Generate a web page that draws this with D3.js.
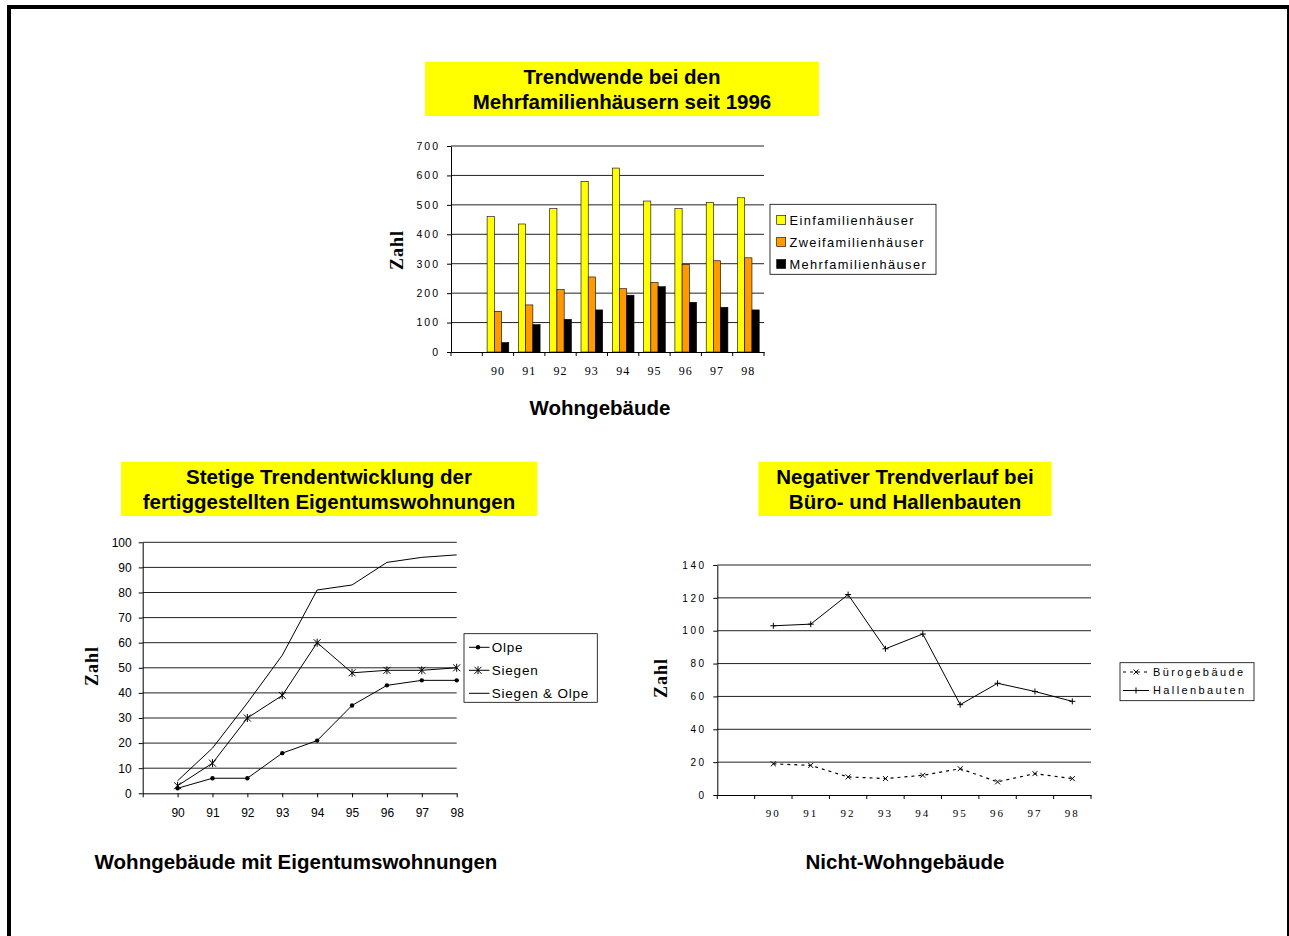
<!DOCTYPE html>
<html><head><meta charset="utf-8">
<script src="https://cdn.jsdelivr.net/npm/d3@7"></script>
<style>body{margin:0;background:#fff}svg{display:block}</style>
</head><body>
<svg id="c" width="1289" height="936"></svg>
<script>
// ---------- DATA ----------
const years = ["90","91","92","93","94","95","96","97","98"];

// Top: Wohngebäude
const barSeries = ["Einfamilienhäuser","Zweifamilienhäuser","Mehrfamilienhäuser"];
const einfamilien = [460, 435, 487, 580, 625, 513, 487, 508, 524];
const zweifamilien = [138, 160, 212, 255, 215, 236, 298, 310, 320];
const mehrfamilien = [32, 93, 111, 143, 193, 222, 169, 152, 143];
const barTicks = [0,100,200,300,400,500,600,700];
const barColors = ["#FFFF00","#FF9900","#000000"];

// Bottom left: Eigentumswohnungen
const olpe = [2, 6, 6, 16, 21, 35, 43, 45, 45];
const siegen = [3, 12, 30, 39, 60, 48, 49, 49, 50];
const siegenOlpe = [5, 18, 36, 55, 81, 83, 92, 94, 95];
const ewTicks = [0,10,20,30,40,50,60,70,80,90,100];

// Bottom right: Nicht-Wohngebäude
const buero = [19, 18, 11, 10, 12, 16, 8, 13, 10];
const hallen = [103, 104, 122, 89, 98, 55, 68, 63, 57];
const nwTicks = [0,20,40,60,80,100,120,140];

// ---------- STYLE ----------
const SANS = "'Liberation Sans', Arial, Helvetica, sans-serif";
const SERIF = "'Liberation Serif', 'Times New Roman', serif";
const svg = d3.select("#c");
const domainX = [""].concat(years);

// frame
svg.append("rect").attr("x",9).attr("y",7).attr("width",1280).attr("height",1000)
  .attr("fill","none").attr("stroke","#000").attr("stroke-width",4);

function titleBox(x, y, w, h, lines, cx) {
  svg.append("rect").attr("x",x).attr("y",y).attr("width",w).attr("height",h).attr("fill","#FFFF00");
  lines.forEach((t,i) => {
    svg.append("text").attr("x",cx).attr("y",y+22.6+25*i).attr("text-anchor","middle")
      .style("font-family",SANS).style("font-weight","bold").style("font-size","20.5px").text(t);
  });
}
function footer(x, y, t) {
  svg.append("text").attr("x",x).attr("y",y).attr("text-anchor","middle")
    .style("font-family",SANS).style("font-weight","bold").style("font-size","20.5px").text(t);
}
function zahl(x, y) {
  svg.append("text").attr("transform",`translate(${x},${y}) rotate(-90)`)
    .attr("text-anchor","middle").attr("dy","0.35em")
    .style("font-family",SERIF).style("font-weight","bold").style("font-size","18px")
    .style("letter-spacing","1px").text("Zahl");
}
function grid(g, ticks, y, x0, x1) {
  g.selectAll(null).data(ticks.filter(d=>d>0)).enter().append("line")
    .attr("x1",x0).attr("x2",x1).attr("y1",d=>y(d)).attr("y2",d=>y(d))
    .attr("stroke","#222").attr("stroke-width",1);
}
function styleAxis(g, font, size, ls) {
  g.select(".domain").attr("stroke","#000").attr("stroke-width",1);
  g.selectAll(".tick line").attr("stroke","#000");
  g.selectAll("text").attr("fill","#000").style("font-family",font).style("font-size",size+"px")
    .style("letter-spacing",ls+"px");
}

// ================= TOP CHART =================
titleBox(425, 61.7, 394, 54.3, ["Trendwende bei den","Mehrfamilienhäusern seit 1996"], 622);
const gT = svg.append("g");
const xT = d3.scaleBand().domain(domainX).range([451, 764]).padding(0);
const yT = d3.scaleLinear().domain([0,700]).range([352, 146]);
grid(gT, barTicks, yT, 451, 764);
const x1 = d3.scaleBand().domain(barSeries).range([0, 21.7]);
const barData = [einfamilien, zweifamilien, mehrfamilien];
years.forEach((yr, i) => {
  barSeries.forEach((s, k) => {
    const v = barData[k][i];
    gT.append("rect")
      .attr("x", xT(yr) + (xT.bandwidth()-21.7)/2 + x1(s))
      .attr("y", yT(v)).attr("width", x1.bandwidth()).attr("height", yT(0)-yT(v))
      .attr("fill", barColors[k]).attr("stroke","#000").attr("stroke-width",0.6);
  });
});
const ayT = gT.append("g").attr("transform","translate(451,0)")
  .call(d3.axisLeft(yT).tickValues(barTicks).tickSize(4).tickSizeOuter(0).tickPadding(7));
styleAxis(ayT, SANS, 10.5, 2);
const axT = gT.append("g").attr("transform","translate(0,352)")
  .call(d3.axisBottom(xT).tickSize(0).tickSizeOuter(0));
styleAxis(axT, SERIF, 12, 1);
axT.selectAll("text").attr("y",23).attr("dy",0);
gT.selectAll(null).data(domainX.map(d=>xT(d)).concat([xT.range()[1]])).enter().append("line")
  .attr("x1",d=>d).attr("x2",d=>d).attr("y1",352).attr("y2",356).attr("stroke","#000");
zahl(397, 250);
// legend
svg.append("rect").attr("x",770).attr("y",204.3).attr("width",166).attr("height",70)
  .attr("fill","#fff").attr("stroke","#000").attr("stroke-width",0.8);
barSeries.forEach((s,k) => {
  svg.append("rect").attr("x",776.7).attr("y",215.5+22*k).attr("width",9).attr("height",9)
    .attr("fill",barColors[k]).attr("stroke","#000").attr("stroke-width",0.6);
  svg.append("text").attr("x",789.5).attr("y",224.5+22*k)
    .style("font-family",SANS).style("font-size","12.8px").style("letter-spacing","1.4px").text(s);
});
footer(600, 415, "Wohngebäude");

// ================= BOTTOM LEFT =================
titleBox(121, 461.7, 416.3, 54.3, ["Stetige Trendentwicklung der","fertiggestellten Eigentumswohnungen"], 329);
const gL = svg.append("g");
const xL = d3.scalePoint().domain(domainX).range([142.7, 456.7]);
const yL = d3.scaleLinear().domain([0,100]).range([793.3, 542.3]);
grid(gL, ewTicks, yL, 142.7, 456.7);
const ayL = gL.append("g").attr("transform","translate(142.7,0)")
  .call(d3.axisLeft(yL).tickValues(ewTicks).tickSize(4).tickSizeOuter(0).tickPadding(7));
styleAxis(ayL, SANS, 12, 0);
const axL = gL.append("g").attr("transform","translate(0,793.3)")
  .call(d3.axisBottom(xL).tickSize(4).tickSizeOuter(0));
styleAxis(axL, SANS, 12, 0);
axL.selectAll("text").attr("y",23.5).attr("dy",0);
const lineL = d3.line().x((d,i)=>xL(years[i])).y(d=>yL(d));
const asterisk = "M-3.5,-3.5L3.5,3.5M-3.5,3.5L3.5,-3.5M0,-4L0,4";
gL.append("path").attr("d",lineL(siegenOlpe)).attr("fill","none").attr("stroke","#000").attr("stroke-width",1);
gL.append("path").attr("d",lineL(siegen)).attr("fill","none").attr("stroke","#000").attr("stroke-width",1);
gL.append("path").attr("d",lineL(olpe)).attr("fill","none").attr("stroke","#000").attr("stroke-width",1);
gL.selectAll(null).data(olpe).enter().append("circle")
  .attr("cx",(d,i)=>xL(years[i])).attr("cy",d=>yL(d)).attr("r",2.2).attr("fill","#000");
gL.selectAll(null).data(siegen).enter().append("path")
  .attr("transform",(d,i)=>`translate(${xL(years[i])},${yL(d)})`).attr("d",asterisk)
  .attr("stroke","#000").attr("stroke-width",1).attr("fill","none");
zahl(92, 666);
svg.append("rect").attr("x",464).attr("y",633.7).attr("width",133.3).attr("height",68.6)
  .attr("fill","#fff").attr("stroke","#000").attr("stroke-width",0.8);
const legL = ["Olpe","Siegen","Siegen & Olpe"];
legL.forEach((s,k) => {
  const cy = 647.3 + 23*k;
  svg.append("line").attr("x1",469).attr("x2",489.5).attr("y1",cy).attr("y2",cy).attr("stroke","#000");
  if (k===0) svg.append("circle").attr("cx",478).attr("cy",cy).attr("r",2.2).attr("fill","#000");
  if (k===1) svg.append("path").attr("transform",`translate(478,${cy})`).attr("d",asterisk)
    .attr("stroke","#000").attr("fill","none");
  svg.append("text").attr("x",491.7).attr("y",cy).attr("dy","0.36em")
    .style("font-family",SANS).style("font-size","13.5px").style("letter-spacing","0.8px").text(s);
});
footer(296, 869, "Wohngebäude mit Eigentumswohnungen");

// ================= BOTTOM RIGHT =================
titleBox(758.3, 461.7, 293.4, 54.3, ["Negativer Trendverlauf bei","Büro- und Hallenbauten"], 905);
const gR = svg.append("g");
const xR = d3.scaleBand().domain(domainX).range([717.3, 1091]).padding(0);
const yR = d3.scaleLinear().domain([0,140]).range([795, 565]);
grid(gR, nwTicks, yR, 717.3, 1091);
const ayR = gR.append("g").attr("transform","translate(717.3,0)")
  .call(d3.axisLeft(yR).tickValues(nwTicks).tickSize(4).tickSizeOuter(0).tickPadding(6.8));
styleAxis(ayR, SANS, 10, 2.5);
const axR = gR.append("g").attr("transform","translate(0,795)")
  .call(d3.axisBottom(xR).tickSize(0).tickSizeOuter(0));
styleAxis(axR, SERIF, 11, 2);
axR.selectAll("text").attr("y",22).attr("dy",0);
gR.selectAll(null).data(domainX.map(d=>xR(d)).concat([xR.range()[1]])).enter().append("line")
  .attr("x1",d=>d).attr("x2",d=>d).attr("y1",795).attr("y2",799).attr("stroke","#000");
const cx = yr => xR(yr) + xR.bandwidth()/2;
const lineR = d3.line().x((d,i)=>cx(years[i])).y(d=>yR(d));
const plus = "M-3,0L3,0M0,-3L0,3";
const cross = "M-2.5,-2.5L2.5,2.5M-2.5,2.5L2.5,-2.5";
gR.append("path").attr("d",lineR(hallen)).attr("fill","none").attr("stroke","#000").attr("stroke-width",1);
gR.append("path").attr("d",lineR(buero)).attr("fill","none").attr("stroke","#000").attr("stroke-width",1.2)
  .attr("stroke-dasharray","3,4");
gR.selectAll(null).data(hallen).enter().append("path")
  .attr("transform",(d,i)=>`translate(${cx(years[i])},${yR(d)})`).attr("d",plus).attr("stroke","#000");
gR.selectAll(null).data(buero).enter().append("path")
  .attr("transform",(d,i)=>`translate(${cx(years[i])},${yR(d)})`).attr("d",cross).attr("stroke","#000");
zahl(661, 678);
svg.append("rect").attr("x",1120).attr("y",662.7).attr("width",134).attr("height",38)
  .attr("fill","#fff").attr("stroke","#000").attr("stroke-width",0.8);
const legR = ["Bürogebäude","Hallenbauten"];
legR.forEach((s,k) => {
  const cy = 672 + 18.5*k;
  svg.append("line").attr("x1",1123).attr("x2",1149).attr("y1",cy).attr("y2",cy).attr("stroke","#000")
    .attr("stroke-width",k===0?1.2:1).attr("stroke-dasharray",k===0?"3,4":null);
  svg.append("path").attr("transform",`translate(1136,${cy})`).attr("d",k===0?cross:plus).attr("stroke","#000");
  svg.append("text").attr("x",1153).attr("y",cy).attr("dy","0.36em")
    .style("font-family",SANS).style("font-size","11px").style("letter-spacing","2.4px").text(s);
});
footer(905, 869, "Nicht-Wohngebäude");
</script>
</body></html>
